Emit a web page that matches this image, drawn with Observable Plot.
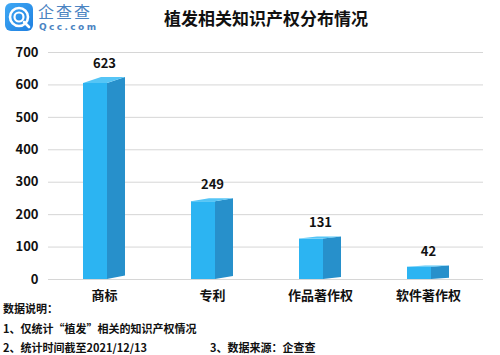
<!DOCTYPE html>
<html>
<head>
<meta charset="utf-8">
<script src="https://cdn.jsdelivr.net/npm/d3@7"></script>
<script src="https://cdn.jsdelivr.net/npm/@observablehq/plot@0.6"></script>
<style>
  html, body { margin: 0; padding: 0; background: #fff; }
  body { width: 500px; height: 355px; position: relative; overflow: hidden;
         font-family: "Noto Sans CJK SC", "Noto Sans", sans-serif; }
  #chart { position: absolute; left: 0; top: 0; }
  .title { position: absolute; left: 0; width: 532px; top: 8px; text-align: center; line-height: 20px;
           font-size: 17px; font-weight: bold; color: #111; }
  .logo { position: absolute; left: 5px; top: 3px; }
  .brand { position: absolute; left: 38px; top: 3px; font-size: 16px; line-height: 16px; color: #4b84c2; letter-spacing: 2px; }
  .brand2 { position: absolute; left: 39px; top: 23px; font-size: 9px; line-height: 9px; color: #4b84c2; letter-spacing: 2.4px; font-family: "DejaVu Sans", sans-serif; font-weight: bold;}
  .note { position: absolute; left: 3px; font-size: 11px; line-height: 14px; font-weight: bold; color: #111; white-space: pre; }
</style>
</head>
<body>
<svg class="logo" width="28" height="28" viewBox="0 0 28 28">
  <defs><linearGradient id="lg" x1="0" y1="0" x2="1" y2="1">
    <stop offset="0" stop-color="#3fa9f5"/><stop offset="1" stop-color="#1f7fe0"/></linearGradient></defs>
  <rect x="0" y="0" width="28" height="28" rx="6" fill="url(#lg)"/>
  <circle cx="14" cy="14" r="9" fill="none" stroke="#fff" stroke-width="2.6"/>
  <circle cx="14" cy="14" r="4.5" fill="none" stroke="#fff" stroke-width="2.2"/>
  <line x1="19" y1="19" x2="24" y2="24" stroke="#fff" stroke-width="2.6" stroke-linecap="round"/>
</svg>
<div class="brand">企查查</div>
<div class="brand2">Qcc.com</div>
<div class="title">植发相关知识产权分布情况</div>
<div id="chart"></div>
<div class="note" style="top:301px">数据说明：</div>
<div class="note" style="top:321px">1、仅统计“植发”相关的知识产权情况</div>
<div class="note" style="top:340px">2、统计时间截至2021/12/13</div>
<div class="note" style="top:340px;left:210px">3、数据来源：企查查</div>
<script>
const categories = ["商标", "专利", "作品著作权", "软件著作权"];
const values = [623, 249, 131, 42];
const yTicks = [0, 100, 200, 300, 400, 500, 600, 700];

const data = categories.map((c, i) => ({category: c, value: values[i]}));

const FRONT = "#2cb4f2", SIDE = "#2790cb", TOP = "#55c5f6";

function bars3d(index, scales, channels, dimensions) {
  const ns = "http://www.w3.org/2000/svg";
  const g = document.createElementNS(ns, "g");
  const x = scales.x, y = scales.y;
  const bw = x.bandwidth();
  const y0 = y(0);
  for (const d of data) {
    const c = x(d.category) + bw / 2;
    const fl = c - 21, fr = c + 3, br = c + 21;
    const yv = y(d.value);
    const h = y0 - yv;
    const rise = Math.min(6, 1 + 0.025 * h);
    const bRise = Math.min(3.5, rise);
    const fTop = yv + rise;
    const poly = (pts, fill) => {
      const p = document.createElementNS(ns, "polygon");
      p.setAttribute("points", pts.map(q => q.join(",")).join(" "));
      p.setAttribute("fill", fill);
      g.appendChild(p);
    };
    poly([[fr, fTop], [br, yv], [br, y0 - bRise], [fr, y0]], SIDE);
    poly([[fl, fTop], [fr, fTop], [fr, y0], [fl, y0]], FRONT);
    poly([[fl, fTop], [fr, fTop], [br, yv], [br - (fr - fl), yv]], TOP);
  }
  return g;
}

const chart = Plot.plot({
  width: 500,
  height: 305,
  marginTop: 52,
  marginBottom: 26,
  marginLeft: 48,
  marginRight: 17,
  style: {fontFamily: "'Noto Sans CJK SC', sans-serif", fontWeight: "bold", fontSize: "13px", color: "#111", background: "transparent"},
  x: {type: "band", domain: categories, padding: 0, label: null},
  y: {domain: [0, 700], label: null},
  marks: [
    Plot.ruleY(yTicks, {stroke: "#d6d6d6", strokeWidth: 1}),
    Plot.axisY({ticks: yTicks, tickSize: 0, tickPadding: 10, label: null, fontSize: 13, fontWeight: "bold"}),
    Plot.axisX({tickSize: 0, tickPadding: 11, label: null, fontSize: 13, fontWeight: "bold"}),
    bars3d,
    Plot.text(data, {x: "category", y: "value", text: d => String(d.value), dy: -14, fontSize: 13, fontWeight: "bold", fill: "#111"})
  ]
});
document.getElementById("chart").appendChild(chart);
</script>
</body>
</html>
